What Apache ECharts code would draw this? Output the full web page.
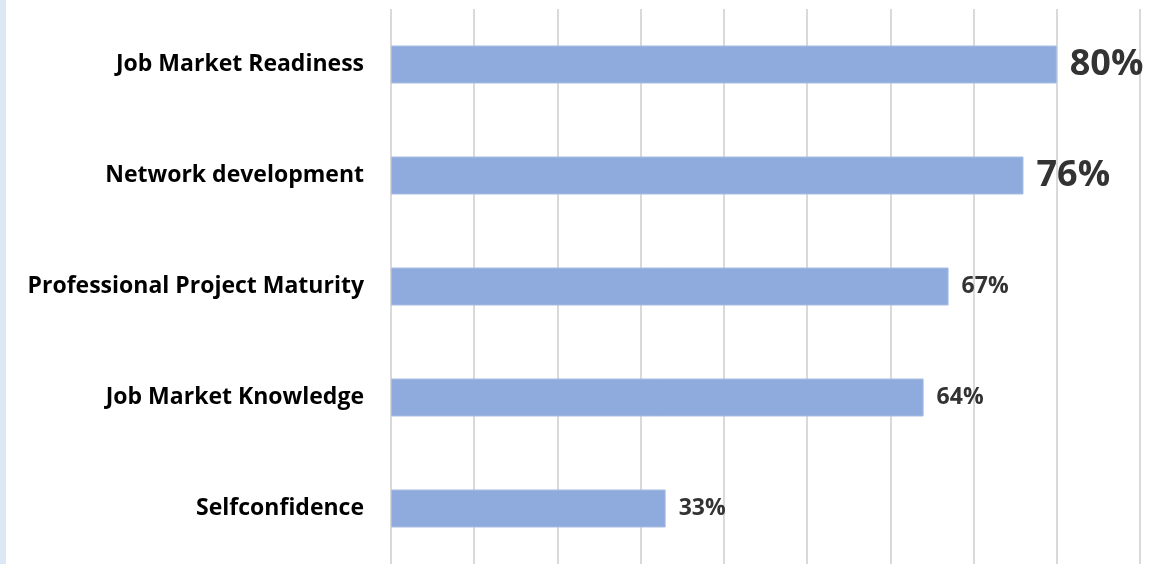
<!DOCTYPE html>
<html>
<head>
<meta charset="utf-8">
<style>
  html, body { margin: 0; padding: 0; background: #ffffff; }
  #chart { width: 1163px; height: 564px; }
</style>
<script src="https://cdn.jsdelivr.net/npm/echarts@6/dist/echarts.min.js"></script>
</head>
<body>
<div id="chart"></div>
<script>
// Survey outcomes, listed top to bottom
const categories = [
  'Job Market Readiness',
  'Network development',
  'Professional Project Maturity',
  'Job Market Knowledge',
  'Selfconfidence'
];
const values = [80, 76, 67, 64, 33];

// The leading results get oversized value labels
const highlightTop = 2;

const chart = echarts.init(document.getElementById('chart'), null, { renderer: 'canvas' });

const seriesData = values.map((v, i) => ({
  value: v,
  label: i < highlightTop ? { fontSize: 36, padding: [4, 0, 0, 0] } : { fontSize: 23, padding: [3, 0, 0, 0] }
}));

chart.setOption({
  animation: false,
  backgroundColor: '#ffffff',
  graphic: [{
    type: 'rect',
    left: 0, top: 0,
    shape: { width: 6, height: 564 },
    style: { fill: '#dde8f5' },
    silent: true
  }],
  grid: { left: 391, top: 9, width: 749, height: 557, containLabel: false },
  xAxis: {
    type: 'value',
    min: 0, max: 90, interval: 10,
    axisLabel: { show: false },
    axisLine: { show: false },
    axisTick: { show: false },
    splitLine: { show: true, lineStyle: { color: '#d9d9d9', width: 2 } }
  },
  yAxis: {
    type: 'category',
    data: categories,
    inverse: true,
    axisLine: { show: false },
    axisTick: { show: false },
    axisLabel: {
      margin: 27,
      color: '#000000',
      fontFamily: 'Open Sans',
      fontWeight: 'bold',
      fontSize: 23,
      padding: [3, 0, 0, 0]
    }
  },
  series: [{
    type: 'bar',
    data: seriesData,
    barWidth: 38,
    itemStyle: { color: '#8faadc', borderColor: '#a8bde4', borderWidth: 1 },
    label: {
      show: true,
      position: 'right',
      distance: 13,
      color: '#333333',
      fontFamily: 'Open Sans',
      fontWeight: 'bold',
      formatter: p => p.value + '%'
    }
  }]
});
</script>
</body>
</html>
